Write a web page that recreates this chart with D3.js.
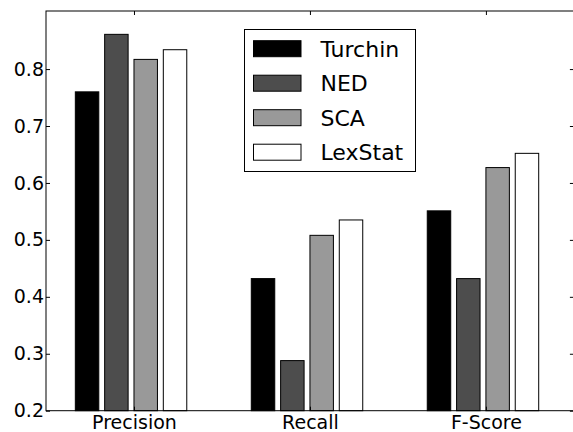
<!DOCTYPE html>
<html><head><meta charset="utf-8">
<script src="https://cdn.jsdelivr.net/npm/d3@7"></script>
<style>body{margin:0;background:#fff}svg{display:block}text{font-family:"DejaVu Sans",sans-serif}</style>
</head><body><svg id="c" width="573" height="432"></svg>
<script>
const categories = ["Precision", "Recall", "F-Score"];
const seriesNames = ["Turchin", "NED", "SCA", "LexStat"];
const turchin = [0.760, 0.432, 0.551];
const ned = [0.861, 0.288, 0.432];
const sca = [0.817, 0.508, 0.627];
const lexstat = [0.834, 0.535, 0.652];
const yTicks = [0.2, 0.3, 0.4, 0.5, 0.6, 0.7, 0.8];
const fills = ["#000000", "#4d4d4d", "#999999", "#ffffff"];

const series = [turchin, ned, sca, lexstat];
const svg = d3.select("#c");
const L = 46, R = 573.9, T = 11, B = 410.7;
const x = d3.scaleLinear().domain([-1/6, 17/6]).range([L, R]);
const y = d3.scaleLinear().domain([0.2, 0.902]).range([B, T]);
const step = 1/6, bw = 0.8/6;

series.forEach((vals, j) => {
  svg.append("g").selectAll("rect").data(vals).join("rect")
    .attr("x", (d, i) => x(i + j * step))
    .attr("width", x(bw) - x(0))
    .attr("y", d => y(d))
    .attr("height", d => B - y(d))
    .attr("fill", fills[j])
    .attr("stroke", "#000")
    .attr("stroke-width", 1);
});

// spines
svg.append("rect").attr("x", L).attr("y", T).attr("width", R - L).attr("height", B - T)
  .attr("fill", "none").attr("stroke", "#000").attr("stroke-width", 1);

// y axes (ticks inside)
const yl = svg.append("g").attr("transform", `translate(${L},0)`)
  .call(d3.axisLeft(y).tickValues(yTicks).tickSize(-4).tickPadding(2).tickFormat(d3.format(".1f")));
const yr = svg.append("g").attr("transform", `translate(${R},0)`)
  .call(d3.axisRight(y).tickValues(yTicks).tickSize(-4).tickFormat(""));
// x axes
const xTickVals = categories.map((c, i) => i + 2 * step);
const xb = svg.append("g").attr("transform", `translate(0,${B})`)
  .call(d3.axisBottom(x).tickValues(xTickVals).tickSize(-4).tickPadding(4.5).tickFormat((d, i) => categories[i]));
const xt = svg.append("g").attr("transform", `translate(0,${T})`)
  .call(d3.axisTop(x).tickValues(xTickVals).tickSize(-4).tickFormat(""));
[yl, yr, xb, xt].forEach(g => {
  g.select(".domain").remove();
  g.selectAll("line").attr("stroke", "#000");
  g.selectAll("text").attr("font-size", 19).attr("fill", "#000").attr("font-family", "DejaVu Sans");
});
xb.selectAll("text").attr("dy", "0.71em");

// legend
const lg = svg.append("g");
lg.append("rect").attr("x", 244.5).attr("y", 29.5).attr("width", 171).attr("height", 142)
  .attr("fill", "#fff").attr("stroke", "#000").attr("stroke-width", 1);
seriesNames.forEach((n, j) => {
  const yy = 40.7 + j * 34.5;
  lg.append("rect").attr("x", 253.5).attr("y", yy).attr("width", 47.5).attr("height", 16)
    .attr("fill", fills[j]).attr("stroke", "#000").attr("stroke-width", 1);
  lg.append("text").attr("x", 320.5).attr("y", yy + 8).attr("dy", "0.36em")
    .attr("font-size", 22).attr("fill", "#000").text(n);
});
</script></body></html>
